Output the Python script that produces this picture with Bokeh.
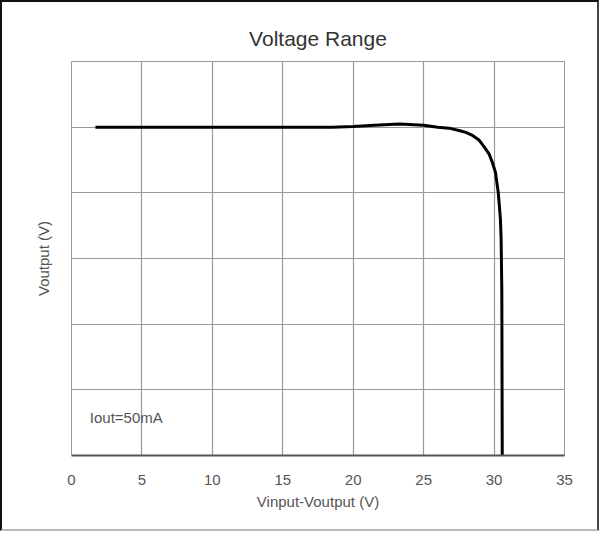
from bokeh.plotting import figure
from bokeh.models import Label, Range1d, FixedTicker
from bokeh.embed import file_html
from bokeh.resources import INLINE

# Data
vdiff = [1.7, 5, 10, 15, 18.5, 20, 21.5, 23.3, 25, 26, 26.8, 27.5, 28.0, 28.5, 28.95,
         29.3, 29.65, 29.9, 30.1, 30.3, 30.45, 30.5, 30.55, 30.58]
vout = [5.0, 5.0, 5.0, 5.0, 5.0, 5.01, 5.03, 5.05, 5.03, 5.0, 4.985, 4.95, 4.92, 4.87, 4.8,
        4.7, 4.59, 4.45, 4.31, 4.0, 3.6, 3.3, 2.5, 0.0]
x_ticks = [0, 5, 10, 15, 20, 25, 30, 35]
y_grid = [0, 1, 2, 3, 4, 5, 6]

FONT = "Liberation Sans"

p = figure(frame_width=493, frame_height=394,
           min_border_left=69, min_border_top=59, min_border_right=33, min_border_bottom=74,
           x_range=Range1d(0, 35), y_range=Range1d(0, 6),
           output_backend="svg", toolbar_location=None,
           title="Voltage Range")
p.styles = {"border-left": "2px solid #111", "border-top": "2px solid #111",
            "border-right": "2px solid #444", "border-bottom": "2px solid #bbb"}

p.title.align = "center"
p.title.text_font = FONT
p.title.text_font_size = "21px"
p.title.text_font_style = "normal"
p.title.text_color = "#333333"
p.title.standoff = 24

p.outline_line_color = "#999999"
p.outline_line_width = 1

p.xaxis.ticker = FixedTicker(ticks=x_ticks)
p.yaxis.ticker = FixedTicker(ticks=[])
p.xgrid.ticker = FixedTicker(ticks=x_ticks)
p.ygrid.ticker = FixedTicker(ticks=y_grid)
p.grid.grid_line_color = "#999999"
p.grid.grid_line_width = 1.2

p.xaxis.axis_line_color = "#555555"
p.xaxis.axis_line_width = 2
p.xaxis.major_tick_out = 0
p.xaxis.major_tick_in = 0
p.xaxis.minor_tick_out = 0
p.xaxis.minor_tick_in = 0
p.xaxis.major_label_standoff = 19
p.xaxis.major_label_text_font = FONT
p.xaxis.major_label_text_font_size = "15px"
p.xaxis.major_label_text_color = "#555555"
p.xaxis.axis_label = "Vinput-Voutput (V)"
p.xaxis.axis_label_text_font = FONT
p.xaxis.axis_label_text_font_size = "15px"
p.xaxis.axis_label_text_font_style = "normal"
p.xaxis.axis_label_text_color = "#555555"
p.xaxis.axis_label_standoff = 5

p.yaxis.axis_line_color = "#999999"
p.yaxis.major_tick_out = 0
p.yaxis.major_tick_in = 0
p.yaxis.minor_tick_out = 0
p.yaxis.minor_tick_in = 0
p.yaxis.major_label_standoff = 0
p.yaxis.axis_label = "Voutput (V)"
p.yaxis.axis_label_text_font = FONT
p.yaxis.axis_label_text_font_size = "15px"
p.yaxis.axis_label_text_font_style = "normal"
p.yaxis.axis_label_text_color = "#555555"
p.yaxis.axis_label_standoff = 20

p.line(vdiff, vout, line_color="black", line_width=3)

p.add_layout(Label(x=1.3, y=0.58, text="Iout=50mA", text_font=FONT, text_font_size="15px",
                   text_color="#555555", text_baseline="middle", text_align="left"))

open("out.html", "w").write(file_html(p, INLINE))
